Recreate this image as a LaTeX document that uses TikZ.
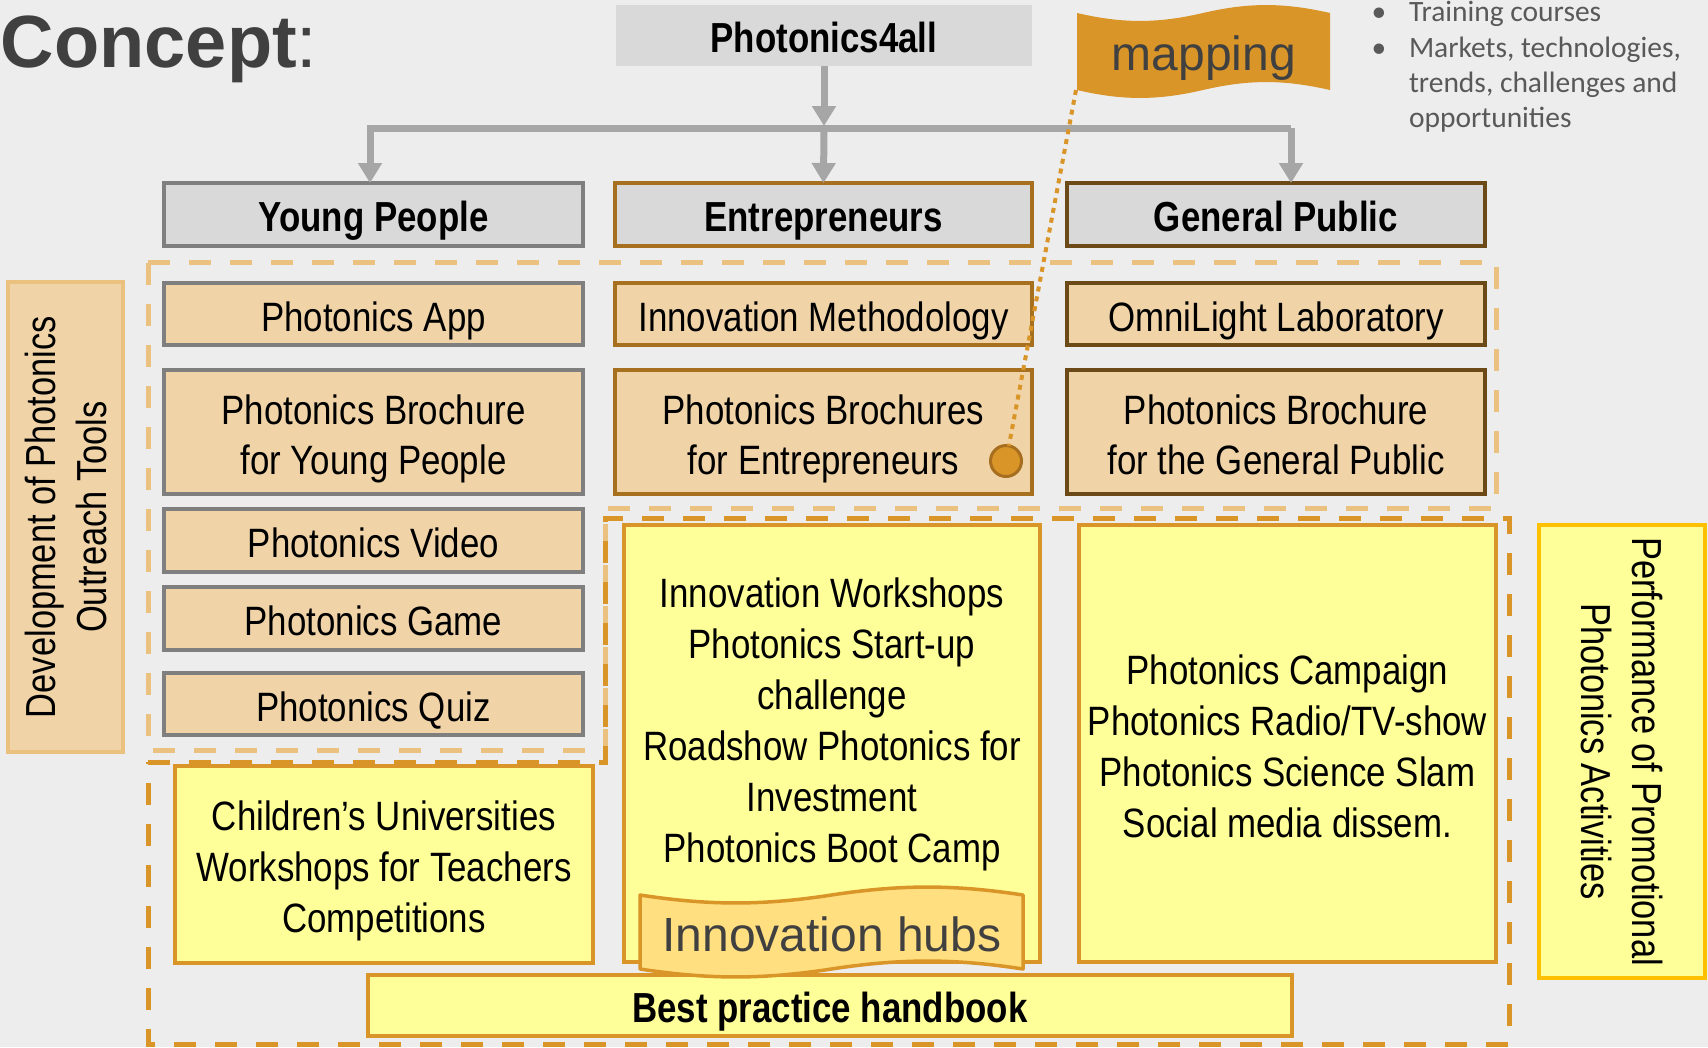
\documentclass[tikz,border=0pt]{standalone}
\usepackage{fontspec}
\setmainfont{Liberation Sans}
\newfontfamily\nar{Liberation Sans}[FakeStretch=0.85]
\newfontfamily\narb{Liberation Sans Bold}[FakeStretch=0.83]
\newfontfamily\narv{Liberation Sans}[FakeStretch=0.82]
\newfontfamily\cali{Carlito}
\usetikzlibrary{arrows.meta}
\definecolor{bgc}{HTML}{EDEDED}
\definecolor{boxgray}{HTML}{D9D9D9}
\definecolor{tanf}{HTML}{F0D4A8}
\definecolor{yel}{HTML}{FFFF99}
\definecolor{gold}{HTML}{DA9528}
\definecolor{brn}{HTML}{A6701F}
\definecolor{dbrn}{HTML}{6B4A17}
\definecolor{gbord}{HTML}{7F7F7F}
\definecolor{lgold}{HTML}{EBC17F}
\definecolor{conng}{HTML}{A6A6A6}
\definecolor{txtgray}{HTML}{404040}
\definecolor{bulgray}{HTML}{595959}
\definecolor{hubfill}{HTML}{FFDF80}
\definecolor{amber}{HTML}{FFC000}
\definecolor{circb}{HTML}{A66E1E}
\tikzset{
 sz/.style 2 args={minimum width=#1pt, minimum height=#2pt},
 tone/.style={text height=39pt, text depth=5pt},
 ttwo/.style={text height=89pt, text depth=5pt},
 tthree/.style={text height=141pt, text depth=5pt},
 tfour/.style={text height=192pt, text depth=5pt},
 tsix/.style={text height=294pt, text depth=5pt},
 hdr/.style={draw=#1, fill=boxgray, line width=4.5pt, font=\narb\fontsize{42}{50}\selectfont, align=center, tone},
 tool/.style={draw=#1, fill=tanf, line width=4.5pt, font=\nar\fontsize{41}{50}\selectfont, align=center},
 ybox/.style={draw=gold, fill=yel, line width=4.5pt, font=\nar\fontsize{41}{51}\selectfont, align=center},
 conn/.style={draw=conng, line width=7pt, -{Triangle[width=23pt,length=20pt]}},
 dlight/.style={draw=lgold, line width=5pt, dash pattern=on 22pt off 19pt},
 ddark/.style={draw=gold, line width=5pt, dash pattern=on 22pt off 19pt},
 vlabel/.style={font=\narv\fontsize{42}{51}\selectfont, align=center},
 bul/.style={text=bulgray, font=\cali\fontsize{29.5}{35}\selectfont},
}
\begin{document}
\begin{tikzpicture}[x=1pt,y=-1pt, every node/.style={inner sep=0pt, outer sep=0pt}]
\useasboundingbox (0,0) rectangle (1708,1047);
\fill[bgc] (0,0) rectangle (1708,1047);

% dashed regions
\draw[dlight] (148,262) -- (1496,262) -- (1496,508) -- (605,508) -- (605,750) -- (148,750) -- cycle;
\draw[ddark] (148,762) -- (605,762) -- (605,518) -- (1509,518) -- (1509,1044) -- (148,1044) -- cycle;

% title
\node[anchor=base west, text=txtgray, font=\fontsize{74}{80}\selectfont] (title) at (1,67) {\bfseries Concept\mdseries:};

% top box
\node[fill=boxgray, sz={416}{61}, font=\narb\fontsize{42}{50}\selectfont, tone] (p4all) at (824,35.5) {Photonics4all};

% bullets
\node[anchor=base, bul] (d1) at (1379,21) {•};
\node[anchor=base west, bul] (b1) at (1409,21) {Training courses};
\node[anchor=base, bul] (d2) at (1379,57) {•};
\node[anchor=base west, bul, align=left] (b2) at (1409,127) {Markets, technologies,\\trends, challenges and\\opportunities};

% headers
\node[hdr=gbord, sz={419}{63}] (yp) at (373.5,214.5) {Young People};
\node[hdr=brn, sz={417}{63}] (ent) at (823.5,214.5) {Entrepreneurs};
\node[hdr=dbrn, sz={418}{63}] (gp) at (1276,214.5) {General Public};

% connectors
\coordinate (hub) at (824,128);
\coordinate (bl) at (370,128);
\coordinate (br) at (1291,128);
\draw[conn, shorten >=2pt] (p4all.south) -- (hub);
\draw[conn] (br) -- (bl) -- (bl |- yp.north);
\draw[conn] (hub) -- (ent.north);
\draw[conn] (br) -- (br |- gp.north);

% column 1 tools
\node[tool=gbord, sz={419}{62}, tone] (app) at (373.5,314) {Photonics App};
\node[tool=gbord, sz={419}{124}, ttwo] (bry) at (373.5,432) {Photonics Brochure\\for Young People};
\node[tool=gbord, sz={419}{63}, tone] (vid) at (373.5,540.5) {Photonics Video};
\node[tool=gbord, sz={419}{63}, tone] (game) at (373.5,618.5) {Photonics Game};
\node[tool=gbord, sz={419}{62}, tone] (quiz) at (373.5,704) {Photonics Quiz};
% column 2 tools
\node[tool=brn, sz={417}{62}, tone] (meth) at (823.5,314) {Innovation Methodology};
\node[tool=brn, sz={417}{124}, ttwo] (bre) at (823.5,432) {Photonics Brochures\\for Entrepreneurs};
% column 3 tools
\node[tool=dbrn, sz={418}{62}, tone] (omni) at (1276,314) {OmniLight Laboratory};
\node[tool=dbrn, sz={418}{124}, ttwo] (brg) at (1276,432) {Photonics Brochure\\for the General Public};

% side labels
\node[draw=lgold, fill=tanf, line width=4pt, sz={115}{470}] (dev) at (65.5,517) {};
\node[vlabel, rotate=90] (devt) at (dev.center) {Development of Photonics\\Outreach Tools};
\node[draw=amber, fill=yel, line width=4pt, sz={166}{453}] (perf) at (1621.5,751.5) {};
\node[vlabel, rotate=-90] (perft) at (perf.center) {Performance of Promotional\\Photonics Activities};

% yellow activity boxes
\node[ybox, sz={418}{197}, tthree] (cu) at (384,864.5) {Children’s Universities\\Workshops for Teachers\\Competitions};
\node[ybox, sz={416}{437}] (iw) at (832,743.5) {};
\node[font=\nar\fontsize{41}{51}\selectfont, align=center, tsix] (iwt) at (832,718) {Innovation Workshops\\Photonics Start-up\\challenge\\Roadshow Photonics for\\Investment\\Photonics Boot Camp};
\node[ybox, sz={417}{437}, tfour] (pc) at (1287.5,743.5) {Photonics Campaign\\Photonics Radio/TV-show\\Photonics Science Slam\\Social media dissem.};
\node[ybox, sz={924}{61}, font=\narb\fontsize{42}{50}\selectfont, tone] (bp) at (830,1005.5) {Best practice handbook};

% innovation hubs banner
\filldraw[fill=hubfill, draw=gold, line width=3.5pt, line join=round]
 (640,895) .. controls (709,905.6) and (762.5,905.6) .. (831.5,895)
 .. controls (900.5,884.4) and (954,884.4) .. (1023,895) -- (1023,969)
 .. controls (954,958.4) and (900.5,958.4) .. (831.5,969)
 .. controls (762.5,979.6) and (709,979.6) .. (640,969) -- cycle;
\node[anchor=base, text=txtgray, font=\fontsize{48}{56}\selectfont] (hubs) at (832,951) {Innovation hubs};

% mapping banner
\fill[gold]
 (1077,13) .. controls (1122.5,23.6) and (1157.5,23.6) .. (1203,13)
 .. controls (1248.5,2.4) and (1283.5,2.4) .. (1330,13) -- (1330,90)
 .. controls (1283.5,79.4) and (1248.5,79.4) .. (1203,90)
 .. controls (1157.5,100.6) and (1122.5,100.6) .. (1077,90) -- cycle;
\node[anchor=base, text=txtgray, font=\fontsize{48}{56}\selectfont] (map) at (1204,70) {mapping};

% dotted link
\coordinate (mapL) at (1076,90);
\node[circle, fill=gold, draw=circb, line width=3pt, minimum size=31pt] (dot) at (1006,461) {};
\draw[draw=gold, line width=4pt, dash pattern=on 5pt off 5pt] (mapL) -- (dot);
\end{tikzpicture}
\end{document}
